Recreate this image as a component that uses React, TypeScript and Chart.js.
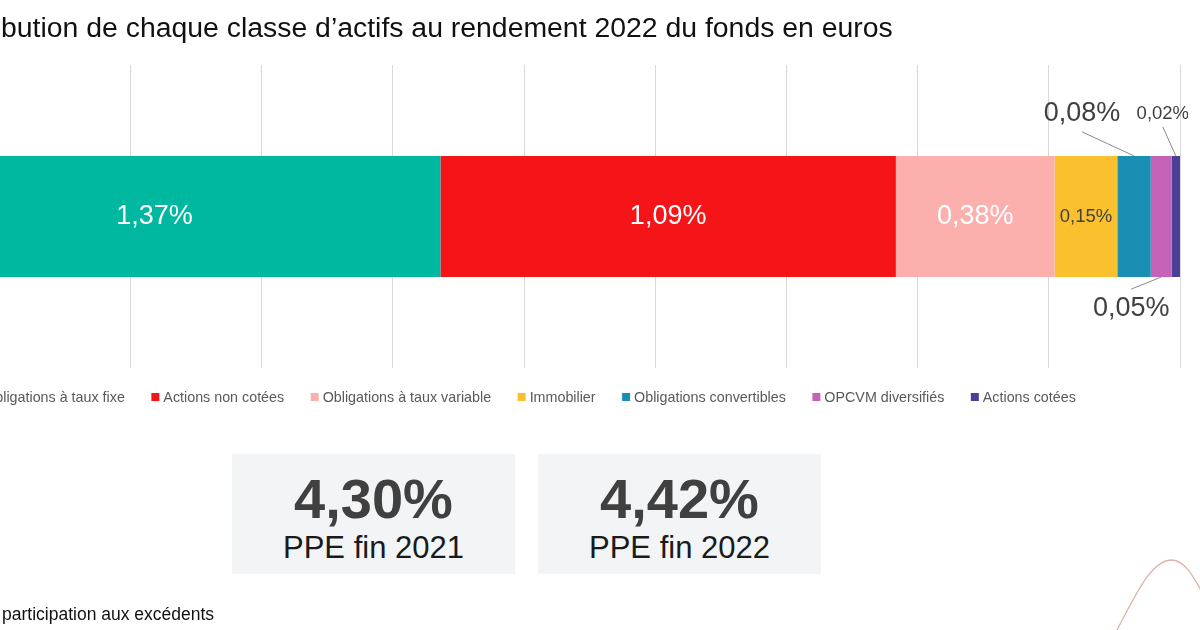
import React, { useEffect, useRef } from 'react';
import { Chart, registerables } from 'chart.js';

Chart.register(...registerables);

// ---- data ----
const categories = [''];
const seriesNames = [
  'Obligations à taux fixe',
  'Actions non cotées',
  'Obligations à taux variable',
  'Immobilier',
  'Obligations convertibles',
  'OPCVM diversifiés',
  'Actions cotées',
];
const seriesValues = [1.37, 1.09, 0.38, 0.15, 0.08, 0.05, 0.02];
const kpiValues = ['4,30%', '4,42%'];
const kpiLabels = ['PPE fin 2021', 'PPE fin 2022'];
const titleHidden = 'Contri';
const titleVisible = 'bution de chaque classe d’actifs au rendement 2022 du fonds en euros';
const footHidden = '* PPE : Provision pour\u00a0';
const footVisible = 'participation aux excédents';

// ---- styles ----
const seriesColors = ['#00b8a0', '#f51519', '#fbb0ae', '#fbc02d', '#1a8fb3', '#c563b8', '#4b3f98'];
const labelStyles = [
  { mode: 'inside', size: 27, color: '#ffffff' },
  { mode: 'inside', size: 27, color: '#ffffff' },
  { mode: 'inside', size: 27, color: '#ffffff' },
  { mode: 'inside', size: 18.5, color: '#404040' },
  { mode: 'above', size: 27, color: '#404040', dx: -52, dy: -42, lead: 18 },
  { mode: 'below', size: 27, color: '#404040', dx: -30, dy: 31, lead: -19 },
  { mode: 'above', size: 18.5, color: '#404040', dx: -13, dy: -42, lead: 13 },
];
const FONT = '"Liberation Sans", Arial, Helvetica, sans-serif';

const fmt = (v: number) => v.toFixed(2).replace('.', ',') + '%';

const labelPlugin = {
  id: 'valueLabels',
  afterDatasetsDraw(chart: any) {
    const ctx = chart.ctx;
    ctx.save();
    chart.data.datasets.forEach((ds: any, i: number) => {
      const meta = chart.getDatasetMeta(i);
      const el: any = meta.data[0];
      if (!el) return;
      const st: any = labelStyles[i];
      const cx = (el.x + el.base) / 2;
      const top = el.y - el.height / 2;
      const bottom = el.y + el.height / 2;
      ctx.font = `${st.size}px ${FONT}`;
      ctx.textAlign = 'center';
      ctx.textBaseline = 'middle';
      ctx.fillStyle = st.color;
      const text = fmt(ds.data[0]);
      if (st.mode === 'inside') {
        ctx.fillText(text, cx, el.y);
      } else {
        const ty = st.mode === 'above' ? top + st.dy : bottom + st.dy;
        const tx = cx + st.dx;
        ctx.fillText(text, tx, ty);
        ctx.strokeStyle = '#8a8a8a';
        ctx.lineWidth = 1;
        ctx.beginPath();
        ctx.moveTo(tx, ty + st.lead);
        ctx.lineTo(cx, st.mode === 'above' ? top : bottom);
        ctx.stroke();
      }
    });
    ctx.restore();
  },
};

const legendPlugin = {
  id: 'bottomLegend',
  afterDraw(chart: any) {
    const ctx = chart.ctx;
    ctx.save();
    ctx.font = `14.3px ${FONT}`;
    const box = 8;
    const gapText = 4;
    const gapItem = 26.5;
    const items = chart.data.datasets.map((ds: any) => ({
      text: ds.label as string,
      color: ds.backgroundColor as string,
      w: ctx.measureText(ds.label).width,
    }));
    const total =
      items.reduce((s: number, it: any) => s + box + gapText + it.w, 0) + gapItem * (items.length - 1);
    const cx = (chart.chartArea.left + chart.chartArea.right) / 2;
    let x = cx - total / 2;
    const y = chart.chartArea.bottom + 29;
    ctx.textAlign = 'left';
    ctx.textBaseline = 'middle';
    items.forEach((it: any) => {
      ctx.fillStyle = it.color;
      ctx.fillRect(x, y - box / 2, box, box);
      ctx.fillStyle = '#595959';
      ctx.fillText(it.text, x + box + gapText, y + 1);
      x += box + gapText + it.w + gapItem;
    });
    ctx.restore();
  },
};

function BarChart() {
  const ref = useRef<HTMLCanvasElement | null>(null);
  useEffect(() => {
    if (!ref.current) return;
    const axisMax = seriesValues.reduce((a, b) => a + b, 0);
    const chart = new Chart(ref.current, {
      type: 'bar',
      data: {
        labels: categories,
        datasets: seriesNames.map((name, i) => ({
          label: name,
          data: [seriesValues[i]],
          backgroundColor: seriesColors[i],
          borderWidth: 0,
          barPercentage: 0.4,
          categoryPercentage: 1,
        })),
      },
      options: {
        indexAxis: 'y',
        animation: false,
        responsive: true,
        maintainAspectRatio: false,
        layout: { padding: { left: 0, right: 8, top: 65, bottom: 262 } },
        plugins: { legend: { display: false }, tooltip: { enabled: false } },
        scales: {
          x: {
            stacked: true,
            min: 0,
            max: axisMax,
            afterBuildTicks: (scale: any) => {
              scale.ticks = Array.from({ length: 11 }, (_, k) => ({ value: (axisMax * k) / 10 }));
            },
            ticks: { display: false },
            grid: { color: '#d9d9d9', lineWidth: 1, drawTicks: false },
            border: { display: false },
          },
          y: { stacked: true, display: false },
        },
      },
      plugins: [labelPlugin, legendPlugin],
    } as any);
    return () => chart.destroy();
  }, []);
  return (
    <div style={{ position: 'absolute', left: -132, top: 0, width: 1320, height: 630 }}>
      <canvas ref={ref} />
    </div>
  );
}

export default function App() {
  const boxLefts = [232, 538];
  return (
    <div
      style={{
        position: 'fixed',
        left: 0,
        top: 0,
        width: 1200,
        height: 630,
        overflow: 'hidden',
        background: '#ffffff',
        fontFamily: FONT,
      }}
    >
      <BarChart />
      <div
        style={{
          position: 'absolute',
          left: 1,
          top: 12,
          fontSize: 28.4,
          lineHeight: '30px',
          whiteSpace: 'nowrap',
          color: '#111',
        }}
      >
        <span style={{ position: 'absolute', right: '100%', top: 0 }}>{titleHidden}</span>
        {titleVisible}
      </div>
      {kpiValues.map((v, i) => (
        <div
          key={i}
          style={{
            position: 'absolute',
            left: boxLefts[i],
            top: 454,
            width: 283,
            height: 120,
            background: '#f2f4f6',
            textAlign: 'center',
          }}
        >
          <div style={{ fontSize: 56, fontWeight: 700, color: '#404040', lineHeight: '56px', marginTop: 17 }}>{v}</div>
          <div style={{ fontSize: 31, color: '#1a1a1a', lineHeight: '32px', marginTop: 5 }}>{kpiLabels[i]}</div>
        </div>
      ))}
      <div
        style={{
          position: 'absolute',
          left: 2,
          top: 604,
          fontSize: 17.5,
          lineHeight: '20px',
          whiteSpace: 'nowrap',
          color: '#111',
        }}
      >
        <span style={{ position: 'absolute', right: '100%', top: 0, paddingRight: 6 }}>{footHidden}</span>
        {footVisible}
      </div>
      <svg
        width={1200}
        height={630}
        style={{ position: 'absolute', left: 0, top: 0, pointerEvents: 'none' }}
      >
        <path
          d="M1116,632 C1138,590 1152,560 1172,560 C1186,561 1194,578 1203,594"
          fill="none"
          stroke="#dcb4ab"
          strokeWidth={1.3}
        />
      </svg>
    </div>
  );
}
